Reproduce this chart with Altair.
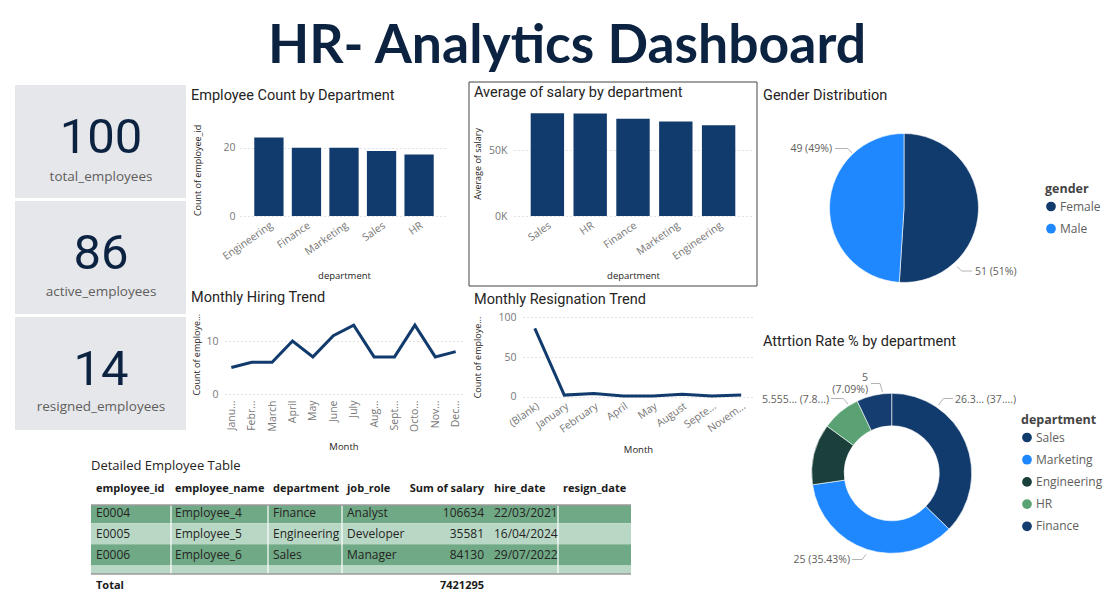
import json
import altair as alt
import pandas as pd

W, H = 1116, 597

# ---------------- data ----------------
dashboard_title = "HR- Analytics Dashboard"

kpi_labels = ["total_employees", "active_employees", "resigned_employees"]
kpi_values = [100, 86, 14]

count_title = "Employee Count by Department"
count_departments = ["Engineering", "Finance", "Marketing", "Sales", "HR"]
count_values = [23, 20, 20, 19, 18]

salary_title = "Average of salary by department"
salary_departments = ["Sales", "HR", "Finance", "Marketing", "Engineering"]
salary_values = [78200, 78000, 74000, 72000, 69000]

hire_title = "Monthly Hiring Trend"
hire_months = ["January", "February", "March", "April", "May", "June", "July",
               "August", "September", "October", "November", "December"]
hire_month_ticks = ["Janu...", "Febr...", "March", "April", "May", "June", "July",
                    "Aug...", "Sept...", "Octo...", "Nov...", "Dec..."]
hire_counts = [5, 6, 6, 10, 7, 11, 13, 7, 7, 13, 7, 8]

resign_title = "Monthly Resignation Trend"
resign_months = ["(Blank)", "January", "February", "April", "May", "August", "September", "November"]
resign_month_ticks = ["(Blank)", "January", "February", "April", "May", "August", "Septe...", "Novem..."]
resign_counts = [86, 2, 4, 1, 1, 3, 1, 2]

gender_title = "Gender Distribution"
genders = ["Female", "Male"]
gender_counts = [51, 49]
gender_labels = ["51 (51%)", "49 (49%)"]

attrition_title = "Attrtion Rate % by department"
attrition_departments = ["Sales", "Marketing", "Engineering", "HR", "Finance"]
attrition_rates = [26.32, 25.0, 8.70, 5.56, 5.0]
attrition_labels = ["26.3... (37....)", "25 (35.43%)", "", "5.555... (7.8...)", "5 (7.09%)"]

table_title = "Detailed Employee Table"
table_headers = ["employee_id", "employee_name", "department", "job_role",
                 "Sum of salary", "hire_date", "resign_date"]
table_ids = ["E0004", "E0005", "E0006"]
table_names = ["Employee_4", "Employee_5", "Employee_6"]
table_departments = ["Finance", "Engineering", "Sales"]
table_roles = ["Analyst", "Developer", "Manager"]
table_salaries = [106634, 35581, 84130]
table_hire_dates = ["22/03/2021", "16/04/2024", "29/07/2022"]
table_resign_dates = ["", "", ""]
table_row_shades = ["dark", "light", "dark", "light"]
table_total_label = "Total"
table_total_salary = 7421295

# ---------------- styles ----------------
NAVY = "#123b6d"
BLUE = "#2088ff"
DKGREEN = "#1b403b"
GREEN = "#5aa273"
FINANCE = "#163d6f"
INK = "#0b2341"
TXT = "#252423"
GREY = "#605e5c"
FONT_UI = "Open Sans"
FONT_DIN = "Roboto"

layers = []


def one(value, name="t"):
    return pd.DataFrame({name: [value]})


def text_at(text, x, y, **kw):
    return alt.Chart(one(text)).mark_text(**kw).encode(
        text="t:N", x=alt.value(x), y=alt.value(y))


def seg(x1, y1, x2, y2, color="#b3b3b3", width=1):
    return alt.Chart(one(0)).mark_rule(color=color, strokeWidth=width).encode(
        x=alt.value(x1), y=alt.value(y1), x2=alt.value(x2), y2=alt.value(y2))


def left_axis(axis_x, title, title_x, values, label_expr=None):
    kw = dict(orient="left", offset=-axis_x, values=values, title=title,
              titleX=title_x - axis_x, titleBaseline="middle", titleFont=FONT_UI,
              titleFontSize=9, titleFontWeight="normal", titleColor=TXT,
              labelFont=FONT_UI, labelFontSize=10.5, labelColor="#777777", labelPadding=4,
              ticks=False, domain=False, grid=True, gridColor="#c4c4c4",
              gridDash=[1, 3], gridWidth=1)
    if label_expr:
        kw["labelExpr"] = label_expr
    return alt.Axis(**kw)


def bottom_axis(axis_y, title, title_y, angle, label_expr=None, pad=4):
    kw = dict(orient="bottom", offset=axis_y - H, title=title, titleY=title_y - axis_y,
              titleBaseline="middle", titleFont=FONT_UI, titleFontSize=9.5,
              titleFontWeight="normal", titleColor=TXT,
              labelFont=FONT_UI, labelFontSize=10.5, labelColor="#777777",
              labelAngle=angle, labelAlign="right",
              labelBaseline="middle" if angle == -90 else "top",
              labelPadding=pad, labelOverlap=False, ticks=False, domain=False, grid=False)
    if label_expr:
        kw["labelExpr"] = label_expr
    return alt.Axis(**kw)


def tick_expr(keys, shown):
    return f"{json.dumps(shown)}[indexof({json.dumps(keys)}, datum.value)]"


# ---------------- title ----------------
layers.append(text_at(dashboard_title, 567, 63, font="Lato", fontSize=53.5,
                      fontWeight="bold", color=INK, align="center", baseline="alphabetic"))

# ---------------- KPI cards ----------------
kpi_df = pd.DataFrame({"label": kpi_labels, "value": kpi_values})
layers.append(alt.Chart(kpi_df).mark_rect(color="#e6e7eb").encode(
    y=alt.Y("label:N", sort=kpi_labels, axis=None,
            scale=alt.Scale(range=[85, 430], paddingInner=0.026, paddingOuter=0)),
    x=alt.value(15), x2=alt.value(186)))
layers.append(alt.Chart(kpi_df).mark_text(font=FONT_DIN, fontSize=49, fontWeight="normal",
                                          color=INK, baseline="middle", align="center").encode(
    y=alt.Y("label:N", sort=kpi_labels, axis=None,
            scale=alt.Scale(type="point", range=[137.5, 369.5], padding=0)),
    x=alt.value(101), text="value:Q"))
layers.append(alt.Chart(kpi_df).mark_text(font=FONT_UI, fontSize=13.5, color=GREY,
                                          baseline="middle", align="center").encode(
    y=alt.Y("label:N", sort=kpi_labels, axis=None,
            scale=alt.Scale(type="point", range=[176.5, 407], padding=0)),
    x=alt.value(101), text="label:N"))

# ---------------- chart titles ----------------
for t, x, y in [(count_title, 191, 100), (salary_title, 474, 96.5), (hire_title, 191, 301.5),
                (resign_title, 474, 304), (gender_title, 763, 100), (attrition_title, 763, 346)]:
    layers.append(text_at(t, x, y, font=FONT_DIN, fontSize=14.5, color=TXT,
                          align="left", baseline="alphabetic"))

# ---------------- employee count by department ----------------
df_count = pd.DataFrame({"department": count_departments, "count": count_values})
layers.append(alt.Chart(df_count).mark_bar(color=NAVY).encode(
    x=alt.X("department:N", sort=count_departments,
            scale=alt.Scale(range=[240, 448], paddingInner=0.22, paddingOuter=0.38),
            axis=bottom_axis(216, "department", 275, -35)),
    y=alt.Y("count:Q", scale=alt.Scale(domain=[0, 27], range=[216, 123.8], nice=False),
            axis=left_axis(239, "Count of employee_id", 197, [0, 20]))))

# ---------------- average salary by department ----------------
layers.append(alt.Chart(one(0)).mark_rect(fill="white", fillOpacity=0, stroke="#444444",
                                          strokeWidth=1).encode(
    x=alt.value(469), x2=alt.value(757), y=alt.value(82), y2=alt.value(286)))
df_sal = pd.DataFrame({"department": salary_departments, "salary": salary_values})
layers.append(alt.Chart(df_sal).mark_bar(color=NAVY).encode(
    x=alt.X("department:N", sort=salary_departments,
            scale=alt.Scale(range=[514, 752], paddingInner=0.22, paddingOuter=0.39),
            axis=bottom_axis(216, "department", 275, -35)),
    y=alt.Y("salary:Q", scale=alt.Scale(domain=[0, 80000], range=[216, 110.9], nice=False),
            axis=left_axis(511, "Average of salary", 477, [0, 50000],
                           "datum.value / 1000 + 'K'"))))

# ---------------- monthly hiring trend ----------------
df_hire = pd.DataFrame({"month": hire_months, "count": hire_counts})
layers.append(alt.Chart(df_hire).mark_line(color=NAVY, strokeWidth=3).encode(
    x=alt.X("month:N", sort=hire_months,
            scale=alt.Scale(type="point", range=[225, 462], padding=0.31),
            axis=bottom_axis(394, "Month", 446, -90, tick_expr(hire_months, hire_month_ticks), pad=6)),
    y=alt.Y("count:Q", scale=alt.Scale(domain=[0, 15], range=[394, 314.5], nice=False),
            axis=left_axis(222, "Count of employe...", 196, [0, 10]))))

# ---------------- monthly resignation trend ----------------
df_res = pd.DataFrame({"month": resign_months, "count": resign_counts})
layers.append(alt.Chart(df_res).mark_line(color=NAVY, strokeWidth=3).encode(
    x=alt.X("month:N", sort=resign_months,
            scale=alt.Scale(type="point", range=[523, 753], padding=0.4),
            axis=bottom_axis(396.7, "Month", 449, -35, tick_expr(resign_months, resign_month_ticks))),
    y=alt.Y("count:Q", scale=alt.Scale(domain=[0, 100], range=[396.7, 317.3], nice=False),
            axis=left_axis(520, "Count of employe...", 477, [0, 50, 100]))))

# ---------------- gender pie ----------------
def legend(title, lx, ly):
    return alt.Legend(orient="none", legendX=lx, legendY=ly, title=title, titleFont=FONT_UI,
                      titleFontSize=12.5, titleFontWeight="bold", titleColor="#444444",
                      titlePadding=5, labelFont=FONT_UI, labelFontSize=12, labelColor=GREY,
                      symbolType="circle", symbolSize=95, symbolStrokeWidth=0,
                      rowPadding=10.2, labelOffset=3)


df_gender = pd.DataFrame({"gender": genders, "count": gender_counts,
                          "order": list(range(len(genders)))})
layers.append(alt.Chart(df_gender).mark_arc(outerRadius=74.5, stroke="white",
                                            strokeWidth=0.6).encode(
    theta=alt.Theta("count:Q", stack=True),
    order=alt.Order("order:Q"),
    color=alt.Color("gender:N", scale=alt.Scale(domain=genders, range=[NAVY, BLUE]),
                    legend=legend("gender", 1045, 183)),
    x=alt.value(904), y=alt.value(208)))
LBL = dict(font=FONT_UI, fontSize=10.5, color=GREY, baseline="middle")
layers.append(text_at(gender_labels[1], 832, 149, align="right", **LBL))
layers.append(text_at(gender_labels[0], 975, 271.5, align="left", **LBL))
layers += [seg(835, 148.5, 848, 148.5), seg(848, 148.5, 852, 153),
           seg(957, 266.5, 961.5, 271), seg(961.5, 271, 972, 271)]

# ---------------- attrition donut ----------------
df_att = pd.DataFrame({"department": attrition_departments, "rate": attrition_rates,
                       "order": list(range(len(attrition_departments)))})
layers.append(alt.Chart(df_att).mark_arc(innerRadius=47.5, outerRadius=80, stroke="white",
                                         strokeWidth=0.6).encode(
    theta=alt.Theta("rate:Q", stack=True),
    order=alt.Order("order:Q"),
    color=alt.Color("department:N",
                    scale=alt.Scale(domain=attrition_departments,
                                    range=[NAVY, BLUE, DKGREEN, GREEN, FINANCE]),
                    legend=legend("department", 1021, 414)),
    x=alt.value(891.7), y=alt.value(473.3)))
layers.append(text_at(attrition_labels[0], 955, 399.5, align="left", **LBL))
layers.append(text_at(attrition_labels[1], 850, 560, align="right", **LBL))
layers.append(text_at(attrition_labels[3], 829, 399.5, align="right", **LBL))
fin_value, fin_share = attrition_labels[4].split(" ")
layers.append(text_at(fin_value, 868, 377.5, align="right", **LBL))
layers.append(text_at(fin_share, 868, 389.5, align="right", **LBL))
layers += [seg(938.5, 405, 943.5, 398.5), seg(943.5, 398.5, 953, 398.5),
           seg(852, 559.5, 862, 559.5), seg(862, 559.5, 866, 554.5),
           seg(831, 398.5, 843.5, 398.5), seg(843.5, 398.5, 848, 404),
           seg(871, 383.5, 880, 383.5), seg(880, 383.5, 882.5, 392)]

# ---------------- detailed employee table ----------------
layers.append(text_at(table_title, 91, 470, font=FONT_UI, fontSize=13, color=TXT,
                      align="left", baseline="alphabetic"))

row_scale = alt.Scale(domain=[0.13, 3.41], range=[505, 574], clamp=True, nice=False, zero=False)
df_bands = pd.DataFrame({"row": list(range(len(table_row_shades))), "shade": table_row_shades})
layers.append(alt.Chart(df_bands).transform_calculate(
    start="datum.row", end="datum.row + 1").mark_rect().encode(
    y=alt.Y("start:Q", scale=row_scale, axis=None), y2="end:Q",
    x=alt.value(91), x2=alt.value(631),
    color=alt.Color("shade:N", scale=alt.Scale(domain=["dark", "light"],
                                               range=["#70a985", "#b9d7c5"]), legend=None)))
for xs in [171, 268, 342, 558]:
    layers.append(seg(xs, 505, xs, 574, color="white", width=1.2))
layers.append(seg(91, 505, 631, 505, color="#9a9a9a", width=1.5))
layers.append(seg(91, 574, 631, 574, color="#9a9a9a", width=1.5))

df_tbl = pd.DataFrame({
    "row": list(range(len(table_ids))),
    "employee_id": table_ids, "employee_name": table_names,
    "department": table_departments, "job_role": table_roles,
    "Sum of salary": table_salaries, "hire_date": table_hire_dates,
    "resign_date": table_resign_dates,
})
col_x = {"employee_id": 96, "employee_name": 175, "department": 273, "job_role": 347,
         "Sum of salary": 484, "hire_date": 494, "resign_date": 563}
HDR = dict(font=FONT_UI, fontSize=11, fontWeight="bold", color="#1b1b1b", baseline="middle")
BODY = dict(font=FONT_UI, fontSize=12, color=TXT, baseline="middle")
for col in table_headers:
    align = "right" if col == "Sum of salary" else "left"
    layers.append(text_at(col, col_x[col], 488.5, align=align, **HDR))
    if col == "resign_date":
        continue
    fmt = dict(format="d") if col == "Sum of salary" else {}
    layers.append(alt.Chart(df_tbl).transform_calculate(pos="datum.row + 0.5").mark_text(
        align=align, **BODY).encode(
        y=alt.Y("pos:Q", scale=row_scale, axis=None),
        x=alt.value(col_x[col]),
        text=alt.Text(f"{col}:{'Q' if col == 'Sum of salary' else 'N'}", **fmt)))
layers.append(text_at(table_total_label, 96, 585.5, align="left", **HDR))
layers.append(text_at(str(table_total_salary), 484, 585.5, align="right", **HDR))

# ---------------- assemble ----------------
chart = alt.layer(*layers).resolve_scale(
    x="independent", y="independent", color="independent", theta="independent"
).resolve_axis(x="independent", y="independent").resolve_legend(color="independent").properties(
    width=W, height=H, padding=0, background="white",
    autosize=alt.AutoSizeParams(type="none"),
).configure_view(strokeWidth=0)

chart.save("out.html", embed_options={"renderer": "svg", "actions": False})
